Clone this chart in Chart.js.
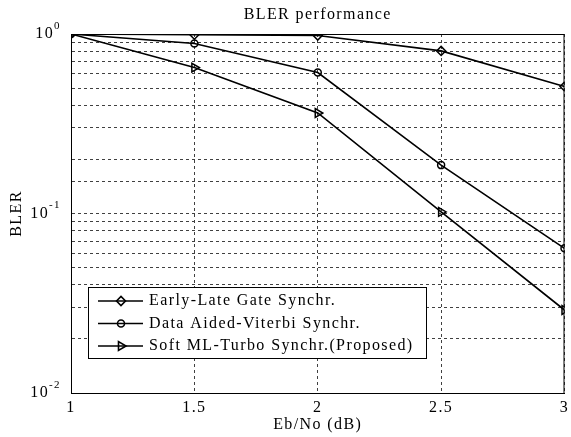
<!DOCTYPE html>
<html>
<head>
<meta charset="utf-8">
<script src="https://cdn.jsdelivr.net/npm/chart.js@4.4.0/dist/chart.umd.min.js"></script>
<style>
  html, body { margin: 0; padding: 0; background: #fff; }
  #wrap { width: 571px; height: 437px; }
</style>
</head>
<body>
<div id="wrap"><canvas id="myChart" width="571" height="437"></canvas></div>
<script>
// values
const ebno = [1, 1.5, 2, 2.5, 3];
const earlyLate = [1.0, 0.99, 0.98, 0.805, 0.51];
const dataAided = [1.0, 0.885, 0.61, 0.186, 0.064];
const softML = [1.0, 0.65, 0.363, 0.102, 0.029];
const seriesNames = ['Early-Late Gate Synchr.', 'Data Aided-Viterbi Synchr.', 'Soft ML-Turbo Synchr.(Proposed)'];
const yTickExp = [0, -1, -2];
const xTicks = [1, 1.5, 2, 2.5, 3];

const serif = '"Liberation Serif", "DejaVu Serif", serif';
const spacing = '1.4px';

function pts(ys) {
    return ebno.map((x, i) => ({x: x, y: ys[i]}));
}

function ds(label, ys, style, radius, rot) {
    return {
        label: label,
        data: pts(ys),
        borderColor: '#000',
        borderWidth: 1.6,
        pointStyle: style,
        pointRotation: rot,
        pointRadius: radius,
        pointBorderWidth: 1.5,
        pointBorderColor: '#000',
        pointBackgroundColor: 'rgba(0,0,0,0)',
        tension: 0
    };
}

// title, tick labels, axis labels, frame and the boxed legend
const extras = {
    id: 'extras',
    afterDraw(chart) {
        const c = chart.ctx;
        const a = chart.chartArea;
        const y = chart.scales.y;
        const x = chart.scales.x;
        c.save();
        c.strokeStyle = '#000';
        c.lineWidth = 1;
        c.setLineDash([]);
        c.strokeRect(a.left + 0.5, a.top + 0.5, a.right - a.left - 1, a.bottom - a.top);

        c.letterSpacing = spacing;
        c.fillStyle = '#000';
        c.textAlign = 'center';
        c.textBaseline = 'middle';
        c.font = '16px ' + serif;
        const mid = (a.left + a.right) / 2;
        c.fillText('BLER performance', mid, 15);
        c.fillText('Eb/No (dB)', mid, 425);

        xTicks.forEach(v => {
            c.fillText(String(v), x.getPixelForValue(v), 408);
        });

        c.save();
        c.translate(17, (a.top + a.bottom) / 2);
        c.rotate(-Math.PI / 2);
        c.fillText('BLER', 0, 0);
        c.restore();

        yTickExp.forEach(e => {
            const py = y.getPixelForValue(Math.pow(10, e));
            const sup = String(e);
            c.font = '11px ' + serif;
            const sw = c.measureText(sup).width;
            c.textAlign = 'left';
            c.fillText(sup, 61 - sw, py - 8);
            c.font = '16px ' + serif;
            c.textAlign = 'right';
            c.fillText('10', 61 - sw, py);
        });

        // legend
        const lx = 88, ly = 287, lw = 338, lh = 71;
        c.fillStyle = '#fff';
        c.fillRect(lx, ly, lw, lh);
        c.strokeStyle = '#000';
        c.lineWidth = 1;
        c.strokeRect(lx + 0.5, ly + 0.5, lw, lh);
        chart.data.datasets.forEach((d, i) => {
            const ry = 301 + i * 22.5;
            c.beginPath();
            c.lineWidth = 1.6;
            c.moveTo(98, ry);
            c.lineTo(143, ry);
            c.stroke();
            c.fillStyle = 'rgba(0,0,0,0)';
            Chart.helpers.drawPoint(c, {
                pointStyle: d.pointStyle,
                rotation: d.pointRotation,
                radius: d.pointRadius,
                borderWidth: 1.5
            }, 121, ry);
            c.fillStyle = '#000';
            c.textAlign = 'left';
            c.font = '16px ' + serif;
            c.fillText(d.label, 149, ry);
        });
        c.restore();
    }
};

const gridStyle = {
    color: '#404040',
    lineWidth: 1,
    drawTicks: false
};

new Chart(document.getElementById('myChart').getContext('2d'), {
    type: 'line',
    data: {
        datasets: [
            ds(seriesNames[0], earlyLate, 'rectRot', 4.5, 0),
            ds(seriesNames[1], dataAided, 'circle', 3.5, 0),
            ds(seriesNames[2], softML, 'triangle', 5, 90)
        ]
    },
    options: {
        responsive: false,
        animation: false,
        layout: { padding: { top: 34, right: 3, left: 0, bottom: 0 } },
        plugins: {
            legend: { display: false },
            tooltip: { enabled: false }
        },
        scales: {
            x: {
                type: 'linear',
                min: 1,
                max: 3,
                afterBuildTicks: s => { s.ticks = xTicks.map(v => ({value: v})); },
                grid: gridStyle,
                border: { display: true, color: '#000', dash: [3, 3] },
                ticks: { display: false },
                afterFit: s => { s.height = 44; s.paddingLeft = 0; s.paddingRight = 0; }
            },
            y: {
                type: 'logarithmic',
                min: 0.01,
                max: 1,
                grid: gridStyle,
                border: { display: true, color: '#000', dash: [3, 3] },
                ticks: { display: false },
                afterFit: s => { s.width = 71; s.paddingTop = 0; s.paddingBottom = 0; }
            }
        }
    },
    plugins: [extras]
});
</script>
</body>
</html>
